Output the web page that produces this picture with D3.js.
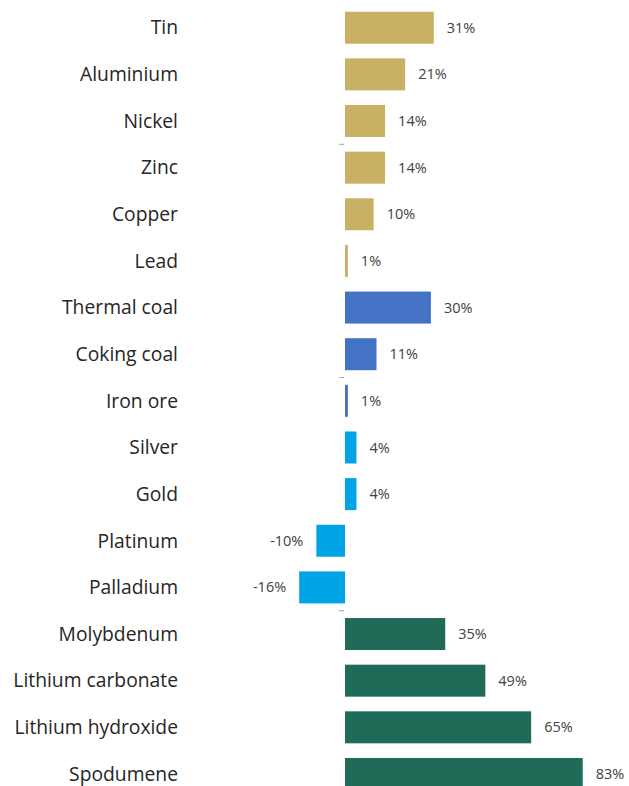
<!DOCTYPE html>
<html>
<head>
<meta charset="utf-8">
<script src="https://cdn.jsdelivr.net/npm/d3@7"></script>
<style>
  html, body { margin: 0; padding: 0; background: #ffffff; }
  svg { display: block; }
</style>
</head>
<body>
<svg id="chart" width="629" height="786"></svg>
<script>
// Commodities and their percentage change
const commodities = [
  "Tin", "Aluminium", "Nickel", "Zinc", "Copper", "Lead",
  "Thermal coal", "Coking coal", "Iron ore",
  "Silver", "Gold", "Platinum", "Palladium",
  "Molybdenum", "Lithium carbonate", "Lithium hydroxide", "Spodumene"
];
const changes = [31, 21, 14, 14, 10, 1, 30, 11, 1, 4, 4, -10, -16, 35, 49, 65, 83];
const groups = [
  "base", "base", "base", "base", "base", "base",
  "bulk", "bulk", "bulk",
  "precious", "precious", "precious", "precious",
  "battery", "battery", "battery", "battery"
];
const groupNames = ["base", "bulk", "precious", "battery"];
const groupColors = ["#c9b064", "#4472c4", "#00a3e4", "#1f6b58"];
// Small axis ticks drawn between these category positions
const tickBoundaries = [3, 8, 13];

const svg = d3.select("#chart");

const x = d3.scaleLinear().domain([0, 83]).range([345, 582.7]);
const y = d3.scaleBand()
  .domain(commodities)
  .range([4.4, 4.4 + 17 * 46.64])
  .paddingInner(0.314)
  .paddingOuter(0.157);
const color = d3.scaleOrdinal().domain(groupNames).range(groupColors);

const data = commodities.map((c, i) => ({ name: c, value: changes[i], group: groups[i] }));

const font = "'Open Sans', Lato, sans-serif";

// Category labels
svg.append("g")
  .selectAll("text")
  .data(data)
  .join("text")
  .attr("x", 178)
  .attr("y", d => y(d.name) + y.bandwidth() / 2)
  .attr("dy", "0.35em")
  .attr("text-anchor", "end")
  .attr("font-family", font)
  .attr("font-size", 19.3)
  .attr("fill", "#262626")
  .text(d => d.name);

// Axis tick marks
svg.append("g")
  .selectAll("line")
  .data(tickBoundaries)
  .join("line")
  .attr("x1", x(0) - 6)
  .attr("x2", x(0) - 1)
  .attr("y1", d => y.range()[0] + d * y.step())
  .attr("y2", d => y.range()[0] + d * y.step())
  .attr("stroke", "#a6a6a6")
  .attr("stroke-width", 1);

// Bars
svg.append("g")
  .selectAll("rect")
  .data(data)
  .join("rect")
  .attr("x", d => x(Math.min(0, d.value)))
  .attr("y", d => y(d.name))
  .attr("width", d => Math.max(1.5, Math.abs(x(d.value) - x(0))))
  .attr("height", y.bandwidth())
  .attr("fill", d => color(d.group));

// Value labels
svg.append("g")
  .selectAll("text")
  .data(data)
  .join("text")
  .attr("x", d => d.value >= 0 ? x(d.value) + 13 : x(d.value) - 13)
  .attr("y", d => y(d.name) + y.bandwidth() / 2)
  .attr("dy", "0.35em")
  .attr("text-anchor", d => d.value >= 0 ? "start" : "end")
  .attr("font-family", font)
  .attr("font-size", 14.5)
  .attr("fill", "#404040")
  .text(d => d.value + "%");
</script>
</body>
</html>
